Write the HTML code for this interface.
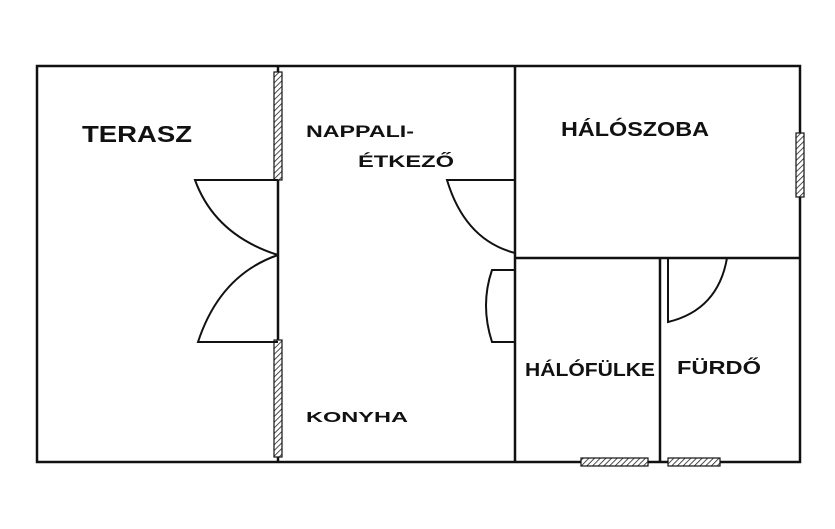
<!DOCTYPE html>
<html><head><meta charset="utf-8"><style>
html,body{margin:0;padding:0;background:#fff;width:835px;height:529px;overflow:hidden}
text{font-family:"Liberation Sans",sans-serif;font-weight:bold;fill:#111}
</style></head><body>
<svg width="835" height="529" viewBox="0 0 835 529" xmlns="http://www.w3.org/2000/svg">
<defs>
<pattern id="h" width="4" height="4" patternUnits="userSpaceOnUse" patternTransform="rotate(45)">
<rect width="4" height="4" fill="#fff"/><line x1="0" y1="0" x2="0" y2="4" stroke="#222" stroke-width="1.6"/>
</pattern>
</defs>
<g stroke="#111" fill="none" stroke-width="2.5">
<rect x="37" y="66" width="763" height="396"/>
<line x1="278" y1="66" x2="278" y2="462"/>
<line x1="515" y1="66" x2="515" y2="462"/>
<line x1="515" y1="258" x2="800" y2="258"/>
<line x1="660" y1="258" x2="660" y2="462"/>
</g>
<!-- windows -->
<g stroke="#111" stroke-width="1.2" fill="url(#h)">
<rect x="274" y="72" width="8" height="108"/>
<rect x="274" y="340" width="8" height="117"/>
<rect x="796" y="133" width="8" height="64"/>
<rect x="581" y="458" width="67" height="8"/>
<rect x="668" y="458" width="52" height="8"/>
</g>
<!-- doors -->
<g stroke="#111" fill="none" stroke-width="2">
<path d="M278 180 L195 180 Q215 235 278 255"/>
<path d="M278 342 L198 342 Q220 275 278 255"/>
<path d="M515 180 L447 180 Q465 240 515 253"/>
<path d="M515 270 L492 270 Q480 305 492 342 L515 342"/>
<path d="M668 258 L668 322 Q718 310 727 258"/>
</g>
<g>
<text x="82" y="142" font-size="23" textLength="110" lengthAdjust="spacingAndGlyphs">TERASZ</text>
<text x="306" y="137" font-size="17" textLength="108" lengthAdjust="spacingAndGlyphs">NAPPALI-</text>
<text x="358" y="167" font-size="17" textLength="96" lengthAdjust="spacingAndGlyphs">ÉTKEZŐ</text>
<text x="561" y="136" font-size="20" textLength="148" lengthAdjust="spacingAndGlyphs">HÁLÓSZOBA</text>
<text x="306" y="422" font-size="15" textLength="102" lengthAdjust="spacingAndGlyphs">KONYHA</text>
<text x="525" y="376" font-size="18" textLength="130" lengthAdjust="spacingAndGlyphs">HÁLÓFÜLKE</text>
<text x="677" y="374" font-size="18" textLength="84" lengthAdjust="spacingAndGlyphs">FÜRDŐ</text>
</g>
</svg>
</body></html>
